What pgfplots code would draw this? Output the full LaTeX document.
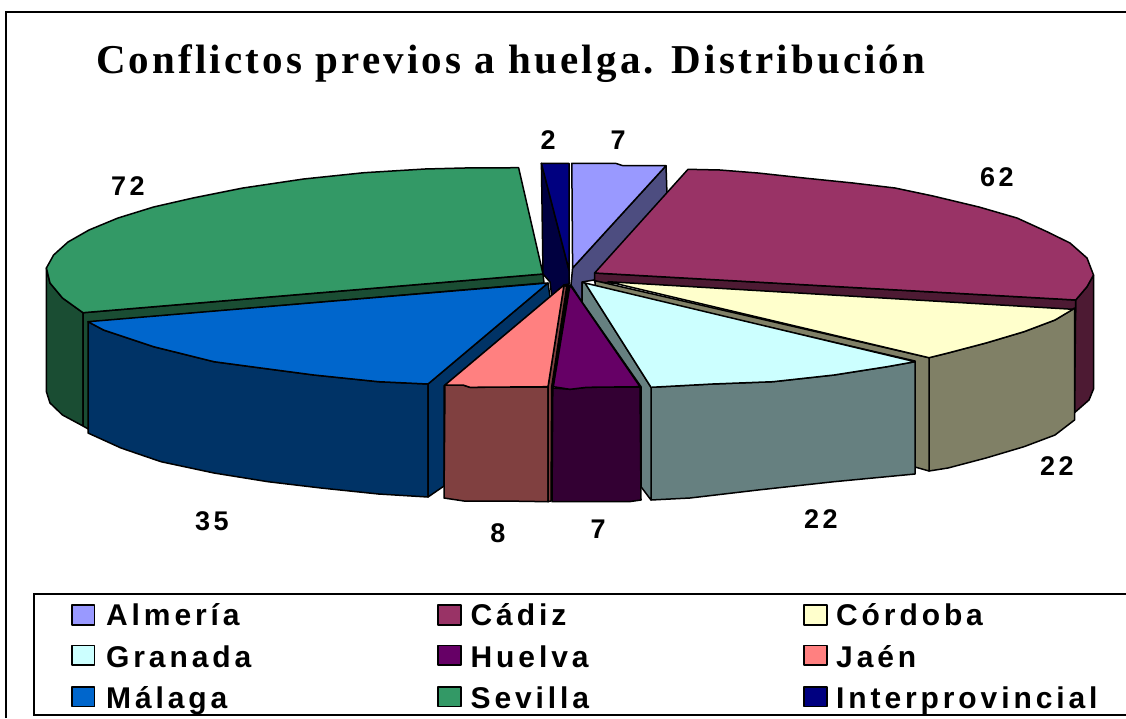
\documentclass[border=0pt]{standalone}
\usepackage{fontspec}
\usepackage{pgfplots}
\pgfplotsset{compat=1.18}
\newfontfamily\titlefont[LetterSpace=7.7]{Liberation Serif}
\newfontfamily\labfont[LetterSpace=13]{Liberation Sans}

\definecolor{almeria}{HTML}{9999FF}\definecolor{almeriaD}{HTML}{4D4D80}
\definecolor{cadiz}{HTML}{993366}\definecolor{cadizD}{HTML}{4D1A33}
\definecolor{cordoba}{HTML}{FFFFCC}\definecolor{cordobaD}{HTML}{808066}
\definecolor{granada}{HTML}{CCFFFF}\definecolor{granadaD}{HTML}{668080}
\definecolor{huelva}{HTML}{660066}\definecolor{huelvaD}{HTML}{330033}
\definecolor{jaen}{HTML}{FF8080}\definecolor{jaenD}{HTML}{804040}
\definecolor{malaga}{HTML}{0066CC}\definecolor{malagaD}{HTML}{003366}
\definecolor{sevilla}{HTML}{339966}\definecolor{sevillaD}{HTML}{1A4D33}
\definecolor{interp}{HTML}{000080}\definecolor{interpD}{HTML}{000040}

\pgfplotsset{
  face/.style={fill=#1, draw=black, line width=1.5pt, line join=round},
  frame/.style={draw=black, line width=2pt, no marks},
}
\newcommand{\lab}[3]{\node[anchor=base, inner sep=0pt] at (axis cs:#1,#2) {\labfont\bfseries\fontsize{27}{28}\selectfont #3};}
\newcommand{\legtext}[3]{\node[anchor=base west, inner sep=0pt] at (axis cs:#1,#2) {\labfont\bfseries\fontsize{30}{31}\selectfont #3};}

\begin{document}
\begin{tikzpicture}
\begin{axis}[
    width=1126pt, height=718pt, scale only axis,
    hide axis, clip=true,
    xmin=0, xmax=1126, ymin=0, ymax=718,
    y dir=reverse,
]
% keeps the page as large as the whole axis
\addplot[draw=none, no marks] coordinates {(0,0) (1126,718)};

% outer frame and legend box, both run to the edge of the picture
\addplot[frame] coordinates {(5.5,718) (5.5,11.7) (1126,11.7)};
\addplot[frame] coordinates {(1126,593.5) (33.7,593.5) (33.7,715) (1126,715)};

% Sevilla
\addplot[face=sevillaD] coordinates {(46.4,268) (50,283) (62.5,298) (83,312.7) (83,426) (62.5,415) (50,403) (46.4,391.7)} --cycle;
\addplot[face=sevillaD] coordinates {(83,312.7) (543,274) (544,283) (90,322) (90,430) (83,426)} --cycle;
\addplot[face=sevilla] coordinates {(543,274) (518.6,167.7) (464,168) (425,169) (364,172.7) (303.6,179) (243,188) (193,198) (153.6,207) (118,218) (89,230) (68,242) (53.6,255) (46.4,268) (50,283) (62.5,298) (83,312.7)} --cycle;

% Interprovincial
\addplot[face=interpD] coordinates {(541.4,163.3) (569,270) (569,284) (564,285) (551.7,296) (550,282) (543,274)} --cycle;
\addplot[face=interp] coordinates {(541.4,163.3) (569,163.3) (569,270)} --cycle;

% Almeria
\addplot[face=almeriaD] coordinates {(666,165.7) (667,195) (594,280) (582,282) (582,302) (571,285) (572.6,268)} --cycle;
\addplot[face=almeria] coordinates {(572.6,268) (571.8,163.3) (615.5,163.3) (623,165.7) (666,165.7)} --cycle;

% Cadiz
\addplot[face=cadizD] coordinates {(1093.5,275) (1093.5,389) (1089,400) (1074.5,412.7) (1075.7,300) (1087,286.7)} --cycle;
\addplot[face=cadizD] coordinates {(594.6,273) (1075.7,300) (1075.7,312) (594.6,282)} --cycle;
\addplot[face=cadiz] coordinates {(594.6,273) (688,169.3) (720,170) (758,173) (804,178) (853,183) (895,188) (933,196) (979,207) (1017,218) (1047,231.7) (1070,243) (1087,258) (1093.5,275) (1087,286.7) (1075.7,300)} --cycle;

% Cordoba
\addplot[face=cordobaD] coordinates {(929,357.7) (948,353) (986,343) (1024,331.7) (1055,320) (1074.5,308) (1074.5,420) (1055,435) (1024,446.7) (986,458) (948,468) (929,471)} --cycle;
\addplot[face=cordobaD] coordinates {(595,280.7) (929,357.7) (929,471) (915,467) (915,361) (595,287)} --cycle;
\addplot[face=cordoba] coordinates {(608,281.7) (1073,309.3) (1055,320) (1024,331.7) (986,343) (948,353) (929,357.7)} --cycle;

% Malaga
\addplot[face=malagaD] coordinates {(88,321.7) (103.6,330) (153.6,346.7) (214,361.7) (261,368) (314,375) (378.6,381.7) (428,384) (428,497) (378.6,494) (321,488) (268,481.7) (214,473) (161,461.7) (121,448) (88,433)} --cycle;
\addplot[face=malagaD] coordinates {(428,384) (548,283) (550,297) (444,386) (444,486) (428,497)} --cycle;
\addplot[face=malaga] coordinates {(548,283) (88,321.7) (103.6,330) (153.6,346.7) (214,361.7) (261,368) (314,375) (378.6,381.7) (428,384)} --cycle;

% Granada
\addplot[face=granadaD] coordinates {(651,387.3) (712.5,384) (773,381.7) (834,375) (887,366.7) (915,361.7) (915,474) (834,481.7) (758,490) (690,498) (651,500)} --cycle;
\addplot[face=granadaD] coordinates {(651,387.3) (585,283) (582,282.7) (582,302) (641,386.7) (641,486.7) (651,500)} --cycle;
\addplot[face=granada] coordinates {(585,283) (915,361.7) (887,366.7) (834,375) (773,381.7) (712.5,384) (651,387.3)} --cycle;

% Jaen
\addplot[fill=black, draw=black, line width=1.5pt] coordinates {(564,285) (570,285) (553,388) (548,388)} --cycle;
\addplot[face=jaenD] coordinates {(445,385) (463,385) (470,387.3) (548,387) (548,501.7) (503.6,501) (464,501) (444,498)} --cycle;
\addplot[face=jaenD] coordinates {(548,387) (564,285) (566.7,286.7) (551.7,386.7) (551,501) (548,501.7)} --cycle;
\addplot[face=jaen] coordinates {(564,285) (445,385) (463,385) (470,387.3) (548,386.7)} --cycle;

% Huelva
\addplot[face=huelvaD] coordinates {(552.8,388) (570,389.3) (586.7,387.3) (640,387) (641,500) (629,501.7) (552,501.7)} --cycle;
\addplot[face=huelva] coordinates {(570,285) (553.3,386.7) (570,389.3) (586.7,387.3) (640,386.7)} --cycle;

% legend swatches
\addplot[face=almeria] coordinates {(72,605) (94.5,605) (94.5,625) (72,625)} --cycle;
\addplot[face=cadiz] coordinates {(438,605) (461,605) (461,625) (438,625)} --cycle;
\addplot[face=cordoba] coordinates {(804,605) (827,605) (827,625) (804,625)} --cycle;
\addplot[face=granada] coordinates {(72,645.5) (94.5,645.5) (94.5,665) (72,665)} --cycle;
\addplot[face=huelva] coordinates {(438,645.5) (461,645.5) (461,665) (438,665)} --cycle;
\addplot[face=jaen] coordinates {(804,645.5) (827,645.5) (827,665) (804,665)} --cycle;
\addplot[face=malaga] coordinates {(72,687) (94.5,687) (94.5,706.5) (72,706.5)} --cycle;
\addplot[face=sevilla] coordinates {(438,687) (461,687) (461,706.5) (438,706.5)} --cycle;
\addplot[face=interp] coordinates {(804,687) (827,687) (827,706.5) (804,706.5)} --cycle;

\node[anchor=base west, inner sep=0pt] at (axis cs:96,73) {\titlefont\bfseries\fontsize{41}{43}\selectfont Conflictos previos a huelga. Distribución};

% data labels
\lab{128}{195}{72}
\lab{548}{149}{2}
\lab{618}{149}{7}
\lab{997}{186}{62}
\lab{1057}{475}{22}
\lab{821}{528}{22}
\lab{598}{538}{7}
\lab{498}{542}{8}
\lab{212}{530}{35}

\legtext{106}{625}{Almería}
\legtext{470.5}{625}{Cádiz}
\legtext{836}{625}{Córdoba}
\legtext{106}{667}{Granada}
\legtext{470.5}{667}{Huelva}
\legtext{836}{667}{Jaén}
\legtext{106}{708}{Málaga}
\legtext{470.5}{708}{Sevilla}
\legtext{836}{708}{Interprovincial}
\end{axis}
\end{tikzpicture}
\end{document}
